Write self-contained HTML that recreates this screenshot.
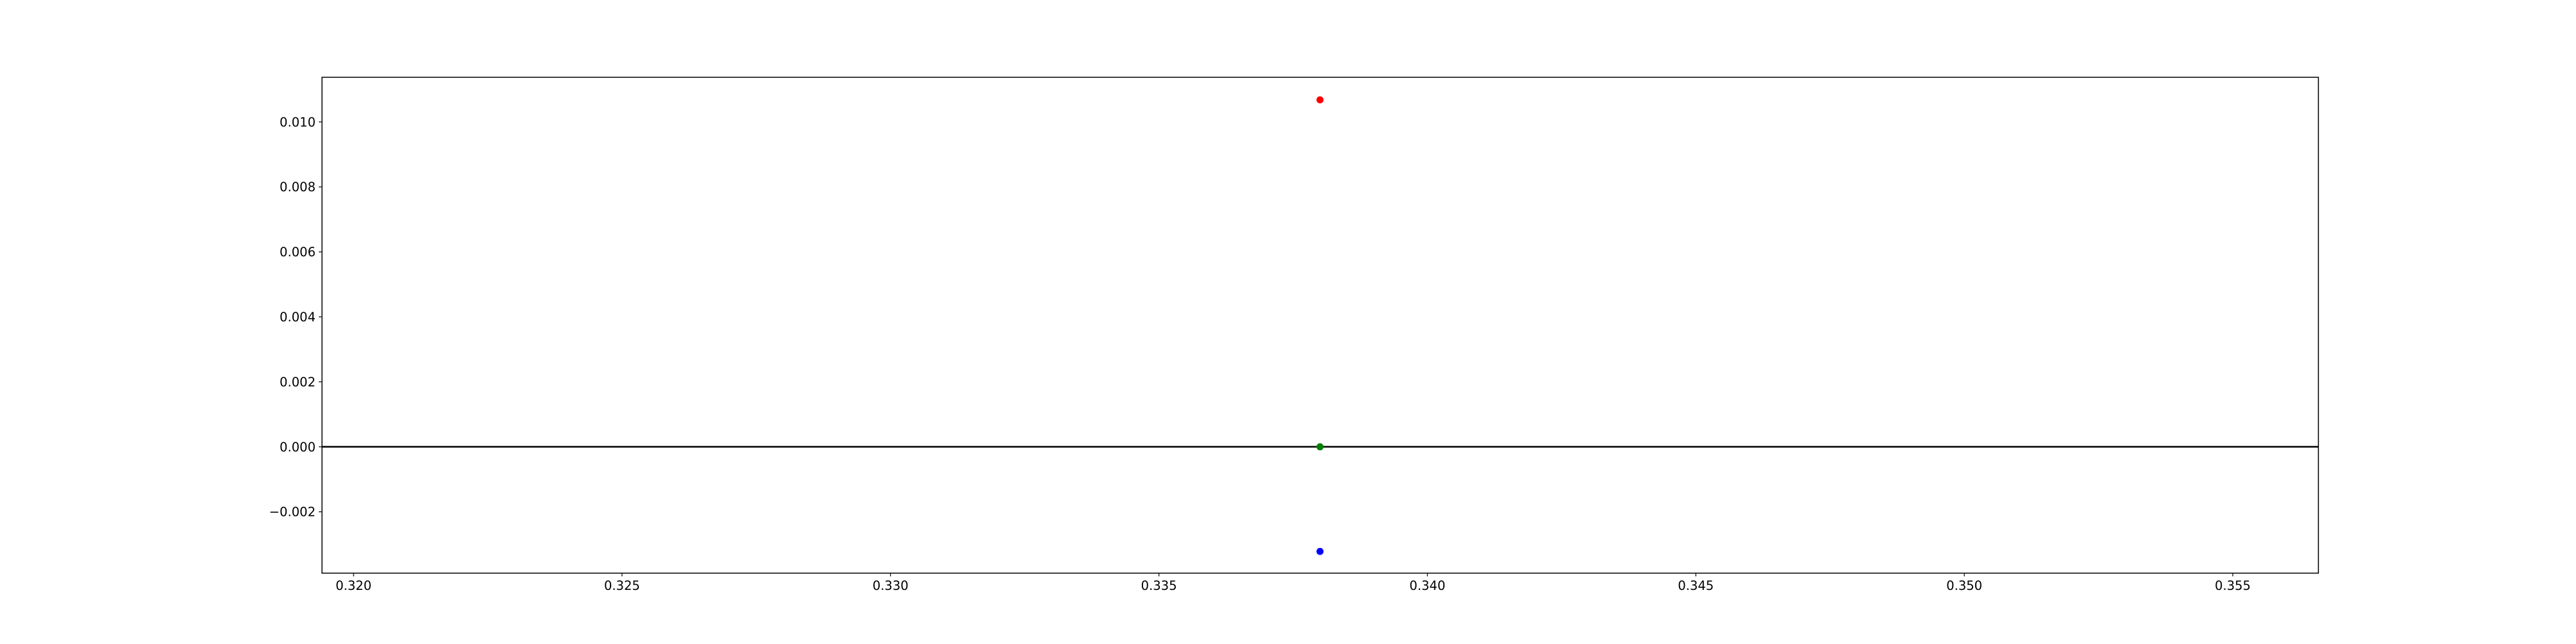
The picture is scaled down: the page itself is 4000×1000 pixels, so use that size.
<!DOCTYPE html>
<html><head><meta charset="utf-8"><style>body{margin:0;background:#fff}svg{display:block}text{font-family:"DejaVu Sans","Liberation Sans",sans-serif;font-size:19.5px;fill:#000}</style></head>
<body>
<svg id="chart" width="4000" height="1000" xmlns="http://www.w3.org/2000/svg"></svg>
<script>
const xs = [0.338, 0.338, 0.338];
const ys = [0.01068, 0.0, -0.00322];
const colors = ["red", "green", "blue"];
const xTicks = [0.320, 0.325, 0.330, 0.335, 0.340, 0.345, 0.350, 0.355];
const yTicks = [-0.002, 0.000, 0.002, 0.004, 0.006, 0.008, 0.010];
const L=500,R=3600,T=120,B=890;
const xmin=0.319412,xmax=0.356595,ymin=-0.003889,ymax=0.011374;
const sx=v=>L+(v-xmin)/(xmax-xmin)*(R-L);
const sy=v=>B-(v-ymin)/(ymax-ymin)*(B-T);
const svg=document.getElementById('chart');
const NS='http://www.w3.org/2000/svg';
function mk(tag,a,p){const e=document.createElementNS(NS,tag);for(const k in a)e.setAttribute(k,a[k]);(p||svg).appendChild(e);return e;}
// zero line
let zl=mk('line',{x1:L,x2:R,y1:sy(0),y2:sy(0),stroke:'#000','stroke-width':2.5});


xTicks.forEach(t=>{
  const g=mk('g',{});
  
  
  mk('line',{x1:sx(t),x2:sx(t),y1:B,y2:B+5,stroke:'#000','stroke-width':1.2},g);
  const tx=mk('text',{x:sx(t),y:B+26,'text-anchor':'middle'},g);tx.textContent=t.toFixed(3);
});
yTicks.forEach(t=>{
  const g=mk('g',{});
  
  
  mk('line',{x1:L-5,x2:L,y1:sy(t),y2:sy(t),stroke:'#000','stroke-width':1.2},g);
  const tx=mk('text',{x:L-10,y:sy(t)+7,'text-anchor':'end'},g);tx.textContent=(t<0?'\u2212':'')+Math.abs(t).toFixed(3);
});
xs.forEach((x,i)=>{
  const c=mk('circle',{cx:sx(x),cy:sy(ys[i]),r:5.5,fill:colors[i]});
  
  
});
const f=mk('rect',{x:L,y:T,width:R-L,height:B-T,fill:'none',stroke:'#000','stroke-width':1.5});


</script>
</body></html>
